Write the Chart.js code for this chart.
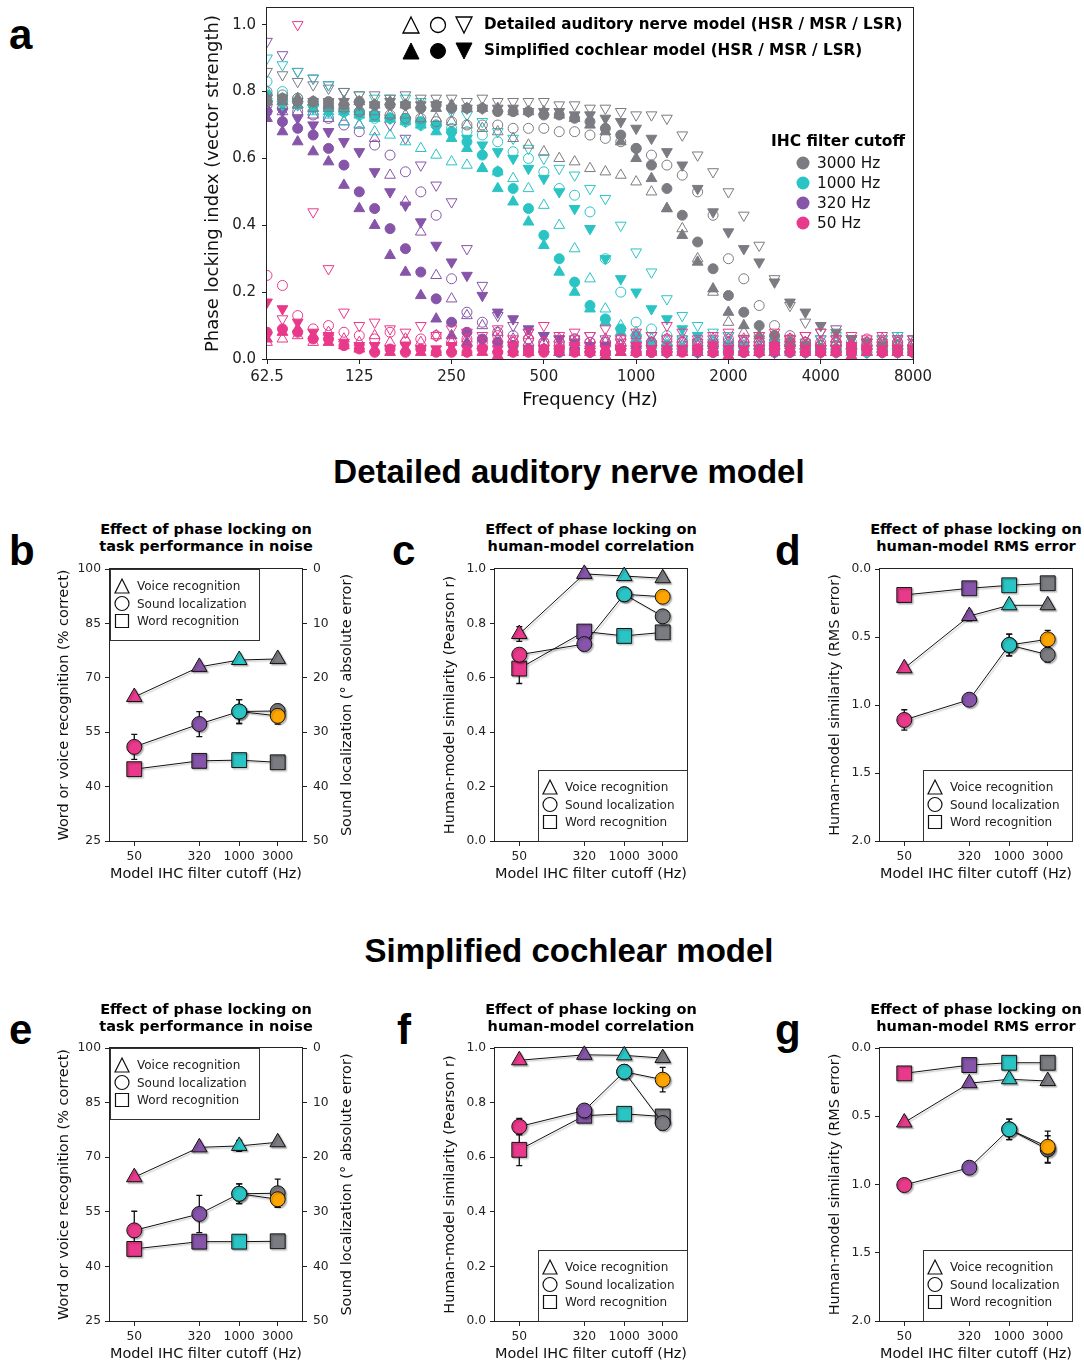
<!DOCTYPE html>
<html>
<head>
<meta charset="utf-8">
<script src="https://cdn.jsdelivr.net/npm/chart.js@4.4.1/dist/chart.umd.min.js"></script>
<style>
  body { margin: 0; background: #fff; }
  #page { position: relative; width: 1084px; height: 1362px; overflow: hidden; background: #fff; }
  canvas { position: absolute; }
  .letter { position: absolute; font: bold 42px/42px "Liberation Sans", Arial, sans-serif; color: #000; }
  .heading { position: absolute; font: bold 33px/33px "Liberation Sans", Arial, sans-serif; white-space: nowrap; transform: translateX(-50%); color: #000; }
  .ptitle { position: absolute; font: bold 14.5px/17px "DejaVu Sans", sans-serif; text-align: center; white-space: nowrap; transform: translateX(-50%); color: #000; }
</style>
</head>
<body>
<div id="page">
  <canvas id="cA" width="740" height="414" style="left:200px;top:0px"></canvas>
  <canvas id="cB" width="306" height="331" style="left:53px;top:555px"></canvas>
  <canvas id="cC" width="260" height="331" style="left:439px;top:555px"></canvas>
  <canvas id="cD" width="260" height="331" style="left:824px;top:555px"></canvas>
  <canvas id="cE" width="306" height="332" style="left:53px;top:1034px"></canvas>
  <canvas id="cF" width="260" height="332" style="left:439px;top:1034px"></canvas>
  <canvas id="cG" width="260" height="332" style="left:824px;top:1034px"></canvas>

  <div class="letter" style="left:9px;top:14px">a</div>
  <div class="letter" style="left:9px;top:530px">b</div>
  <div class="letter" style="left:392px;top:530px">c</div>
  <div class="letter" style="left:775px;top:530px">d</div>
  <div class="letter" style="left:9px;top:1009px">e</div>
  <div class="letter" style="left:397px;top:1009px">f</div>
  <div class="letter" style="left:775px;top:1009px">g</div>

  <div class="heading" style="left:569px;top:455px">Detailed auditory nerve model</div>
  <div class="heading" style="left:569px;top:934px">Simplified cochlear model</div>

  <div class="ptitle" style="left:206px;top:521px">Effect of phase locking on<br>task performance in noise</div>
  <div class="ptitle" style="left:591px;top:521px">Effect of phase locking on<br>human-model correlation</div>
  <div class="ptitle" style="left:976px;top:521px">Effect of phase locking on<br>human-model RMS error</div>
  <div class="ptitle" style="left:206px;top:1001px">Effect of phase locking on<br>task performance in noise</div>
  <div class="ptitle" style="left:591px;top:1001px">Effect of phase locking on<br>human-model correlation</div>
  <div class="ptitle" style="left:976px;top:1001px">Effect of phase locking on<br>human-model RMS error</div>
</div>

<script>
// ---------- panel a: phase locking vs frequency ----------
const freqHz = [62.5, 70.2, 78.7, 88.4, 99.2, 111.4, 125, 140.3, 157.5, 176.8,
  198.4, 222.7, 250, 280.6, 315, 353.6, 396.9, 445.4, 500, 561.2,
  630, 707.1, 793.7, 890.9, 1000, 1122, 1260, 1414, 1587, 1782,
  2000, 2245, 2520, 2828, 3175, 3564, 4000, 4490, 5040, 5657,
  6350, 7127, 8000];
const xTickA = [62.5, 125, 250, 500, 1000, 2000, 4000, 8000];
const yTickA = [0, 0.2, 0.4, 0.6, 0.8, 1.0];

// 3000 Hz cutoff
const sim3000HSR = [0.78,0.77,0.78,0.77,0.76,0.77,0.77,0.76,0.77,0.76, 0.76,0.75,0.76,0.75,0.75,0.75,0.74,0.74,0.74,0.73, 0.72,0.70,0.68,0.65,0.60,0.54,0.45,0.37,0.29,0.21, 0.14,0.10,0.07,0.05,0.04,0.03,0.03,0.02,0.03,0.02, 0.03,0.02,0.02];
const sim3000MSR = [0.77,0.78,0.77,0.77,0.77,0.76,0.77,0.76,0.76,0.76, 0.75,0.76,0.75,0.75,0.75,0.74,0.74,0.74,0.73,0.73, 0.72,0.71,0.69,0.67,0.63,0.58,0.51,0.43,0.35,0.27, 0.19,0.14,0.10,0.07,0.05,0.04,0.03,0.03,0.02,0.03, 0.02,0.03,0.02];
const sim3000LSR = [0.78,0.78,0.77,0.77,0.77,0.77,0.76,0.76,0.77,0.76, 0.76,0.76,0.75,0.75,0.75,0.75,0.75,0.74,0.74,0.74, 0.73,0.73,0.72,0.71,0.69,0.66,0.62,0.58,0.51,0.44, 0.38,0.33,0.29,0.23,0.17,0.14,0.10,0.08,0.06,0.05, 0.04,0.03,0.03];
const det3000HSR = [0.77,0.76,0.76,0.75,0.75,0.75,0.74,0.74,0.73,0.73, 0.72,0.72,0.71,0.70,0.69,0.68,0.66,0.64,0.62,0.60, 0.59,0.57,0.56,0.55,0.53,0.50,0.45,0.39,0.30,0.20, 0.11,0.08,0.06,0.05,0.05,0.04,0.04,0.05,0.04,0.04, 0.05,0.04,0.04];
const det3000MSR = [0.80,0.79,0.78,0.77,0.76,0.75,0.74,0.73,0.73,0.72, 0.72,0.71,0.71,0.70,0.70,0.70,0.69,0.69,0.69,0.68, 0.68,0.67,0.66,0.65,0.63,0.61,0.58,0.55,0.50,0.43, 0.30,0.24,0.16,0.10,0.07,0.05,0.04,0.04,0.03,0.04, 0.03,0.04,0.03];
const det3000LSR = [0.86,0.85,0.83,0.82,0.81,0.80,0.79,0.79,0.78,0.79, 0.78,0.78,0.78,0.77,0.78,0.77,0.77,0.77,0.77,0.76, 0.76,0.75,0.75,0.74,0.73,0.73,0.72,0.67,0.61,0.56, 0.50,0.43,0.34,0.24,0.16,0.11,0.08,0.06,0.06,0.05, 0.05,0.06,0.05];

// 1000 Hz cutoff
const sim1000HSR = [0.78,0.77,0.76,0.75,0.74,0.74,0.73,0.72,0.72,0.71, 0.70,0.68,0.66,0.63,0.57,0.51,0.47,0.41,0.34,0.26, 0.20,0.15,0.11,0.08,0.06,0.04,0.03,0.03,0.02,0.03, 0.02,0.03,0.02,0.02,0.03,0.02,0.02,0.03,0.02,0.02, 0.03,0.02,0.02];
const sim1000MSR = [0.79,0.77,0.77,0.76,0.75,0.74,0.74,0.73,0.72,0.72, 0.71,0.70,0.68,0.65,0.61,0.56,0.51,0.45,0.37,0.30, 0.23,0.16,0.12,0.09,0.07,0.05,0.04,0.03,0.03,0.02, 0.03,0.02,0.02,0.03,0.02,0.02,0.03,0.02,0.02,0.02, 0.03,0.02,0.02];
const sim1000LSR = [0.77,0.76,0.76,0.75,0.74,0.74,0.73,0.73,0.72,0.71, 0.70,0.69,0.67,0.66,0.64,0.62,0.60,0.57,0.54,0.50, 0.45,0.39,0.30,0.24,0.20,0.15,0.12,0.09,0.07,0.05, 0.04,0.04,0.03,0.03,0.03,0.02,0.03,0.02,0.02,0.03, 0.02,0.02,0.02];
const det1000HSR = [0.80,0.78,0.76,0.74,0.73,0.71,0.70,0.68,0.67,0.65, 0.63,0.61,0.59,0.58,0.57,0.56,0.54,0.51,0.46,0.40, 0.33,0.24,0.15,0.10,0.08,0.06,0.05,0.06,0.05,0.05, 0.06,0.04,0.05,0.06,0.05,0.04,0.05,0.06,0.05,0.04, 0.05,0.06,0.05];
const det1000MSR = [0.83,0.80,0.78,0.76,0.75,0.74,0.73,0.72,0.72,0.71, 0.70,0.70,0.69,0.68,0.67,0.65,0.62,0.60,0.56,0.51, 0.49,0.44,0.30,0.20,0.11,0.09,0.07,0.06,0.05,0.05, 0.04,0.05,0.04,0.05,0.04,0.05,0.04,0.04,0.05,0.04, 0.04,0.05,0.04];
const det1000LSR = [0.90,0.88,0.86,0.84,0.82,0.80,0.79,0.78,0.78,0.78, 0.77,0.76,0.74,0.73,0.71,0.68,0.66,0.63,0.60,0.57, 0.55,0.51,0.48,0.40,0.32,0.26,0.18,0.13,0.10,0.08, 0.07,0.06,0.07,0.06,0.06,0.05,0.06,0.07,0.06,0.05, 0.06,0.07,0.06];

// 320 Hz cutoff
const sim320HSR = [0.72,0.68,0.65,0.62,0.59,0.52,0.45,0.40,0.31,0.26, 0.19,0.12,0.07,0.05,0.04,0.03,0.03,0.02,0.03,0.02, 0.02,0.03,0.02,0.02,0.02,0.03,0.02,0.02,0.02,0.02, 0.03,0.02,0.02,0.02,0.02,0.03,0.02,0.02,0.02,0.02, 0.02,0.02,0.02];
const sim320MSR = [0.74,0.71,0.69,0.67,0.63,0.58,0.50,0.45,0.39,0.33, 0.26,0.18,0.11,0.08,0.06,0.05,0.04,0.03,0.03,0.02, 0.03,0.02,0.02,0.03,0.02,0.02,0.02,0.03,0.02,0.02, 0.02,0.02,0.03,0.02,0.02,0.02,0.02,0.02,0.03,0.02, 0.02,0.02,0.02];
const sim320LSR = [0.76,0.74,0.72,0.70,0.68,0.65,0.62,0.56,0.50,0.46, 0.41,0.34,0.29,0.25,0.19,0.14,0.12,0.09,0.07,0.06, 0.05,0.04,0.04,0.03,0.03,0.03,0.02,0.03,0.02,0.03, 0.02,0.03,0.02,0.02,0.03,0.02,0.02,0.03,0.02,0.02, 0.03,0.02,0.02];
const det320HSR = [0.75,0.74,0.74,0.73,0.72,0.71,0.70,0.66,0.55,0.47, 0.38,0.25,0.18,0.13,0.10,0.08,0.06,0.05,0.05,0.04, 0.05,0.04,0.05,0.04,0.04,0.05,0.04,0.04,0.05,0.04, 0.04,0.05,0.04,0.04,0.05,0.04,0.04,0.05,0.04,0.04, 0.05,0.04,0.04];
const det320MSR = [0.76,0.75,0.74,0.73,0.72,0.70,0.68,0.64,0.61,0.56, 0.50,0.43,0.24,0.14,0.11,0.08,0.07,0.06,0.05,0.05, 0.06,0.05,0.05,0.04,0.05,0.05,0.04,0.05,0.05,0.04, 0.05,0.04,0.05,0.05,0.04,0.05,0.04,0.05,0.04,0.05, 0.04,0.05,0.04];
const det320LSR = [0.95,0.91,0.86,0.84,0.82,0.80,0.76,0.73,0.70,0.66, 0.58,0.52,0.47,0.33,0.22,0.13,0.10,0.08,0.07,0.06, 0.06,0.07,0.06,0.05,0.06,0.07,0.06,0.06,0.05,0.06, 0.07,0.06,0.06,0.05,0.06,0.07,0.06,0.09,0.06,0.05, 0.06,0.07,0.06];

// 50 Hz cutoff
const sim50HSR = [0.06,0.08,0.09,0.07,0.05,0.04,0.03,0.03,0.02,0.03, 0.02,0.02,0.03,0.02,0.02,0.01,0.02,0.02,0.03,0.02, 0.02,0.02,0.01,0.02,0.02,0.02,0.03,0.02,0.02,0.02, 0.01,0.02,0.02,0.02,0.03,0.02,0.02,0.02,0.01,0.02, 0.02,0.02,0.02];
const sim50MSR = [0.08,0.09,0.08,0.06,0.06,0.04,0.03,0.02,0.03,0.02, 0.03,0.02,0.02,0.02,0.03,0.02,0.02,0.02,0.02,0.03, 0.02,0.02,0.02,0.03,0.02,0.02,0.02,0.02,0.03,0.02, 0.02,0.02,0.02,0.03,0.02,0.02,0.02,0.02,0.02,0.03, 0.02,0.02,0.02];
const sim50LSR = [0.17,0.15,0.11,0.08,0.07,0.05,0.04,0.04,0.03,0.04, 0.03,0.03,0.04,0.03,0.03,0.03,0.04,0.03,0.03,0.03, 0.04,0.03,0.03,0.03,0.04,0.03,0.03,0.03,0.03,0.04, 0.03,0.03,0.03,0.04,0.03,0.03,0.03,0.03,0.04,0.03, 0.03,0.03,0.03];
const det50HSR = [0.05,0.06,0.07,0.05,0.08,0.06,0.05,0.07,0.05,0.06, 0.05,0.07,0.05,0.06,0.04,0.06,0.05,0.07,0.05,0.06, 0.05,0.04,0.06,0.05,0.07,0.05,0.06,0.05,0.04,0.06, 0.05,0.06,0.05,0.04,0.06,0.05,0.05,0.06,0.04,0.05, 0.06,0.05,0.05];
const det50MSR = [0.25,0.22,0.13,0.09,0.10,0.08,0.07,0.06,0.08,0.05, 0.06,0.07,0.05,0.06,0.05,0.07,0.05,0.06,0.05,0.04, 0.06,0.05,0.05,0.06,0.04,0.05,0.06,0.05,0.05,0.04, 0.06,0.05,0.05,0.04,0.06,0.05,0.05,0.05,0.04,0.06, 0.05,0.05,0.04];
const det50LSR = [0.07,0.12,1.00,0.44,0.27,0.14,0.10,0.11,0.09,0.08, 0.10,0.07,0.09,0.08,0.07,0.09,0.06,0.08,0.10,0.07, 0.08,0.07,0.09,0.06,0.08,0.07,0.10,0.08,0.06,0.07, 0.08,0.06,0.07,0.08,0.06,0.07,0.08,0.06,0.07,0.06, 0.07,0.06,0.06];

// ---------- panels b-g ----------
const cutoffHz = [50, 320, 1000, 3000];
const cutoffColors = ['#e8398a', '#8654a8', '#2bc4c4', '#7b7b82'];
const altColor = '#ffa500';
const taskNames = ['Voice recognition', 'Sound localization', 'Word recognition'];
const taskTicks = [25, 40, 55, 70, 85, 100];
const locTicks = [0, 10, 20, 30, 40, 50];
const corrTicks = [0, 0.2, 0.4, 0.6, 0.8, 1.0];
const rmsTicks = [0, 0.5, 1.0, 1.5, 2.0];

// b: detailed model, task performance (% correct; localization in degrees)
const bVoice = [64.7, 73.0, 74.9, 75.2];
const bVoiceErr = [0.4, 0.5, 0.5, 0.4];
const bLoc = [32.7, 28.5, 26.2, 26.1];
const bLocErr = [2.3, 2.3, 2.2, 1.2];
const bLocAlt = [26.2, 27.0];
const bLocAltErr = [2.2, 1.5];
const bWord = [44.8, 47.1, 47.3, 46.7];
const bWordErr = [0.3, 0.3, 0.3, 0.3];

// c: detailed model, human-model correlation
const cVoice = [0.761, 0.982, 0.974, 0.966];
const cVoiceErr = [0.027, 0.004, 0.004, 0.004];
const cLoc = [0.685, 0.724, 0.907, 0.826];
const cLocErr = [0.012, 0.015, 0.01, 0.01];
const cLocAlt = [0.907, 0.898];
const cLocAltErr = [0.01, 0.021];
const cWord = [0.634, 0.770, 0.754, 0.767];
const cWordErr = [0.055, 0.01, 0.012, 0.006];

// d: detailed model, RMS error
const dVoice = [0.730, 0.346, 0.267, 0.267];
const dVoiceErr = [0.02, 0.035, 0.01, 0.01];
const dLoc = [1.110, 0.961, 0.559, 0.630];
const dLocErr = [0.075, 0.02, 0.08, 0.055];
const dLocAlt = [0.559, 0.517];
const dLocAltErr = [0.08, 0.065];
const dWord = [0.191, 0.142, 0.120, 0.105];
const dWordErr = [0.01, 0.01, 0.01, 0.01];

// e: simplified model, task performance
const eVoice = [64.5, 72.7, 73.1, 74.1];
const eVoiceErr = [0.4, 0.5, 1.5, 0.5];
const eLoc = [33.4, 30.4, 26.7, 26.6];
const eLocErr = [3.5, 3.4, 1.8, 2.6];
const eLocAlt = [26.7, 27.7];
const eLocAltErr = [1.8, 1.5];
const eWord = [44.8, 46.8, 46.8, 46.9];
const eWordErr = [0.3, 0.3, 0.7, 0.3];

// f: simplified model, correlation
const fVoice = [0.955, 0.975, 0.973, 0.963];
const fVoiceErr = [0.004, 0.004, 0.004, 0.004];
const fLoc = [0.712, 0.771, 0.913, 0.725];
const fLocErr = [0.03, 0.01, 0.025, 0.025];
const fLocAlt = [0.913, 0.884];
const fLocAltErr = [0.025, 0.045];
const fWord = [0.627, 0.752, 0.759, 0.749];
const fWordErr = [0.058, 0.01, 0.01, 0.02];

// g: simplified model, RMS error
const gVoice = [0.546, 0.258, 0.229, 0.242];
const gVoiceErr = [0.01, 0.01, 0.01, 0.01];
const gLoc = [1.004, 0.877, 0.596, 0.743];
const gLocErr = [0.015, 0.02, 0.075, 0.1];
const gLocAlt = [0.596, 0.724];
const gLocAltErr = [0.075, 0.115];
const gWord = [0.186, 0.125, 0.108, 0.108];
const gWordErr = [0.01, 0.01, 0.01, 0.01];

Chart.defaults.font.family = '"DejaVu Sans", sans-serif';
Chart.defaults.color = '#111';

// legend marker (not data)
function drawMarker(ctx, style, x, y, s, fill, stroke, lw) {
  ctx.beginPath();
  if (style === 'circle') ctx.arc(x, y, s / 2, 0, Math.PI * 2);
  else if (style === 'up') { ctx.moveTo(x, y - s / 2); ctx.lineTo(x + s / 2, y + s / 2); ctx.lineTo(x - s / 2, y + s / 2); ctx.closePath(); }
  else if (style === 'down') { ctx.moveTo(x, y + s / 2); ctx.lineTo(x + s / 2, y - s / 2); ctx.lineTo(x - s / 2, y - s / 2); ctx.closePath(); }
  else ctx.rect(x - s / 2, y - s / 2, s, s);
  ctx.fillStyle = fill;
  ctx.fill();
  if (lw) { ctx.lineWidth = lw; ctx.strokeStyle = stroke; ctx.stroke(); }
}

// keep label overhang from pushing the plot area around
const noPadY = s => { s.paddingTop = 0; s.paddingBottom = 0; };
const noPadX = s => { s.paddingLeft = 0; s.paddingRight = 0; };

const frame = {
  id: 'frame',
  beforeDatasetsDraw(chart) {
    const {ctx, chartArea: a} = chart;
    ctx.save();
    ctx.strokeStyle = '#222';
    ctx.lineWidth = 1;
    const l = Math.round(a.left) - 0.5, t = Math.round(a.top) - 0.5;
    ctx.strokeRect(l, t, Math.round(a.right) - Math.round(a.left) + 1, Math.round(a.bottom) - Math.round(a.top) + 1);
    ctx.restore();
  }
};

// soft drop shadow under the markers and lines of panels b-g
const softShadow = {
  id: 'softShadow',
  beforeDatasetDraw(chart) {
    const ctx = chart.ctx;
    ctx.save();
    ctx.shadowColor = 'rgba(0,0,0,0.28)';
    ctx.shadowOffsetX = 1.5;
    ctx.shadowOffsetY = 1.5;
    ctx.shadowBlur = 1.5;
  },
  afterDatasetDraw(chart) {
    chart.ctx.restore();
  }
};

const errorBars = {
  id: 'errorBars',
  beforeDatasetsDraw(chart) {
    const ctx = chart.ctx;
    ctx.save();
    ctx.strokeStyle = '#111';
    ctx.lineWidth = 1.3;
    chart.data.datasets.forEach(ds => {
      if (!ds.err) return;
      const xs = chart.scales.x, ys = chart.scales[ds.yAxisID || 'y'];
      ds.data.forEach((p, j) => {
        const e = ds.err[j];
        if (!e) return;
        const x = xs.getPixelForValue(p.x);
        const y1 = ys.getPixelForValue(p.y - e), y2 = ys.getPixelForValue(p.y + e);
        ctx.beginPath();
        ctx.moveTo(x, y1); ctx.lineTo(x, y2);
        ctx.moveTo(x - 3, y1); ctx.lineTo(x + 3, y1);
        ctx.moveTo(x - 3, y2); ctx.lineTo(x + 3, y2);
        ctx.stroke();
      });
    });
    ctx.restore();
  }
};

const taskLegend = {
  id: 'taskLegend',
  afterDatasetsDraw(chart, args, opts) {
    const {ctx, chartArea: a} = chart;
    const w = 149, h = 71;
    const x0 = opts.corner === 'tl' ? Math.round(a.left) : Math.round(a.right) - w;
    const y0 = opts.corner === 'tl' ? Math.round(a.top) : Math.round(a.bottom) - h;
    ctx.save();
    ctx.fillStyle = '#fff';
    ctx.fillRect(x0, y0, w, h);
    ctx.strokeStyle = '#333';
    ctx.lineWidth = 1;
    ctx.strokeRect(x0 + 0.5, y0 + 0.5, w, h);
    const styles = ['up', 'circle', 'square'];
    const sizes = [14, 14, 13];
    taskNames.forEach((name, i) => {
      const y = y0 + 17 + i * 17.5;
      drawMarker(ctx, styles[i], x0 + 12, y, sizes[i], '#fff', '#111', 1.2);
      ctx.fillStyle = '#222';
      ctx.font = '12px "DejaVu Sans"';
      ctx.textAlign = 'left';
      ctx.textBaseline = 'middle';
      ctx.fillText(name, x0 + 27, y + 1);
    });
    // right-hand axis title, read bottom to top like the left one
    if (opts.rightTitle) {
      ctx.translate(a.right + 45, (a.top + a.bottom) / 2);
      ctx.rotate(-Math.PI / 2);
      ctx.textAlign = 'center';
      ctx.fillStyle = '#111';
      ctx.font = '14.5px "DejaVu Sans"';
      ctx.fillText(opts.rightTitle, 0, 0);
    }
    ctx.restore();
  }
};

const legendA = {
  id: 'legendA',
  afterDraw(chart) {
    const ctx = chart.ctx;
    ctx.save();
    ctx.textBaseline = 'middle';
    ctx.textAlign = 'left';
    drawMarker(ctx, 'up', 211, 25, 16, 'rgba(255,255,255,0)', '#000', 1.3);
    drawMarker(ctx, 'circle', 238, 25, 15, 'rgba(255,255,255,0)', '#000', 1.3);
    drawMarker(ctx, 'down', 264, 25, 16, 'rgba(255,255,255,0)', '#000', 1.3);
    drawMarker(ctx, 'up', 211, 51, 16, '#000', '#000', 1);
    drawMarker(ctx, 'circle', 238, 51, 15, '#000', '#000', 1);
    drawMarker(ctx, 'down', 264, 51, 16, '#000', '#000', 1);
    ctx.fillStyle = '#000';
    ctx.font = 'bold 15.2px "DejaVu Sans"';
    ctx.fillText('Detailed auditory nerve model (HSR / MSR / LSR)', 284, 25);
    ctx.fillText('Simplified cochlear model (HSR / MSR / LSR)', 284, 51);
    ctx.textAlign = 'center';
    ctx.font = 'bold 15.5px "DejaVu Sans"';
    ctx.fillText('IHC filter cutoff', 638, 142);
    ctx.textAlign = 'left';
    ctx.font = '15.3px "DejaVu Sans"';
    [3, 2, 1, 0].forEach((ci, i) => {
      const y = 163 + i * 20;
      drawMarker(ctx, 'circle', 603, y, 13, cutoffColors[ci], cutoffColors[ci], 0);
      ctx.fillStyle = '#111';
      ctx.fillText(cutoffHz[ci] + ' Hz', 617, y + 1);
    });
    ctx.restore();
  }
};

const gridOpts = {display: true, drawOnChartArea: false, drawTicks: true, tickLength: 5, color: '#222', lineWidth: 1};

// ---------- build panel a ----------
function scatterSet(vals, color, marker, filled, order) {
  return {
    data: freqHz.map((f, i) => ({x: f, y: vals[i]})),
    showLine: false,
    pointStyle: marker === 'circle' ? 'circle' : 'triangle',
    pointRotation: marker === 'down' ? 180 : 0,
    pointRadius: marker === 'circle' ? 5 : 6.2,
    pointBackgroundColor: filled ? color : 'rgba(255,255,255,0)',
    pointBorderColor: color,
    pointBorderWidth: 1,
    order: order
  };
}

const [pink, purple, teal, gray] = cutoffColors;
const groupsA = [
  [pink, sim50HSR, sim50MSR, sim50LSR, det50HSR, det50MSR, det50LSR],
  [gray, sim3000HSR, sim3000MSR, sim3000LSR, det3000HSR, det3000MSR, det3000LSR],
  [teal, sim1000HSR, sim1000MSR, sim1000LSR, det1000HSR, det1000MSR, det1000LSR],
  [purple, sim320HSR, sim320MSR, sim320LSR, det320HSR, det320MSR, det320LSR]
];
const datasetsA = [];
groupsA.forEach(g => {
  const c = g[0];
  datasetsA.push(scatterSet(g[1], c, 'up', true, datasetsA.length));
  datasetsA.push(scatterSet(g[2], c, 'circle', true, datasetsA.length));
  datasetsA.push(scatterSet(g[3], c, 'down', true, datasetsA.length));
  datasetsA.push(scatterSet(g[4], c, 'up', false, datasetsA.length));
  datasetsA.push(scatterSet(g[5], c, 'circle', false, datasetsA.length));
  datasetsA.push(scatterSet(g[6], c, 'down', false, datasetsA.length));
});

new Chart(document.getElementById('cA'), {
  type: 'scatter',
  data: {datasets: datasetsA},
  options: {
    responsive: false, animation: false, devicePixelRatio: 1,
    layout: {padding: {top: 8, right: 27, left: 0, bottom: 0}},
    plugins: {legend: {display: false}, tooltip: {enabled: false}},
    scales: {
      x: {
        type: 'logarithmic', min: 62.5, max: 8000,
        afterBuildTicks: s => { s.ticks = xTickA.map(v => ({value: v})); },
        afterFit: s => { s.height = 55; noPadX(s); },
        ticks: {font: {size: 15}, color: '#222', padding: 4, autoSkip: false, maxRotation: 0, callback: v => String(v)},
        grid: gridOpts, border: {display: false},
        title: {display: true, text: 'Frequency (Hz)', font: {size: 18}, color: '#111', padding: {top: 4, bottom: 3}}
      },
      y: {
        min: 0, max: 1.05,
        afterBuildTicks: s => { s.ticks = yTickA.map(v => ({value: v})); },
        afterFit: s => { s.width = 67; noPadY(s); },
        ticks: {font: {size: 15}, color: '#222', padding: 6, callback: v => v.toFixed(1)},
        grid: gridOpts, border: {display: false},
        title: {display: true, text: 'Phase locking index (vector strength)', font: {size: 18}, color: '#111', padding: {top: 3, bottom: 4}}
      }
    }
  },
  plugins: [frame, legendA]
});

// ---------- build panels b-g ----------
function makeTaskPanel(canvasId, kind, d, corner) {
  const isTask = kind === 'task';
  const locAxis = isTask ? 'yR' : 'y';
  const pts = vals => cutoffHz.map((c, i) => ({x: c, y: vals[i]}));
  const line = {showLine: true, borderColor: '#111', borderWidth: 1, pointBorderColor: '#111', pointBorderWidth: 1, clip: false};
  const datasets = [
    Object.assign({}, line, {data: [{x: cutoffHz[2], y: d.locAlt[0]}, {x: cutoffHz[3], y: d.locAlt[1]}], err: d.locAltErr, yAxisID: locAxis,
      pointStyle: 'circle', pointRadius: 7.5, pointBackgroundColor: [cutoffColors[2], altColor], order: 0}),
    Object.assign({}, line, {data: pts(d.loc), err: d.locErr, yAxisID: locAxis, pointStyle: 'circle', pointRadius: 7.5, pointBackgroundColor: cutoffColors, order: 1}),
    Object.assign({}, line, {data: pts(d.voice), err: d.voiceErr, yAxisID: 'y', pointStyle: 'triangle', pointRadius: 9, pointBackgroundColor: cutoffColors, order: 2}),
    Object.assign({}, line, {data: pts(d.word), err: d.wordErr, yAxisID: 'y', pointStyle: 'rect', pointRadius: 10.5, pointBackgroundColor: cutoffColors, order: 3})
  ];

  const yc = {
    task: {min: 25, max: 100, ticks: taskTicks, fmt: v => String(v), reverse: false, title: 'Word or voice recognition (% correct)'},
    corr: {min: 0, max: 1, ticks: corrTicks, fmt: v => v.toFixed(1), reverse: false, title: 'Human-model similarity (Pearson r)'},
    rms: {min: 0, max: 2, ticks: rmsTicks, fmt: v => v.toFixed(1), reverse: true, title: 'Human-model similarity (RMS error)'}
  }[kind];

  const scales = {
    x: {
      type: 'logarithmic', min: 25, max: 6000,
      afterBuildTicks: s => { s.ticks = cutoffHz.map(v => ({value: v})); },
      afterFit: s => { s.height = 45; noPadX(s); },
      ticks: {font: {size: 12.3}, color: '#222', padding: 3, autoSkip: false, maxRotation: 0, callback: v => String(v)},
      grid: gridOpts, border: {display: false},
      title: {display: true, text: 'Model IHC filter cutoff (Hz)', font: {size: 14.5}, color: '#111', padding: {top: 4, bottom: 3}}
    },
    y: {
      min: yc.min, max: yc.max, reverse: yc.reverse,
      afterBuildTicks: s => { s.ticks = yc.ticks.map(v => ({value: v})); },
      afterFit: s => { s.width = isTask ? 57 : 56; noPadY(s); },
      ticks: {font: {size: 12.3}, color: '#222', padding: 4, callback: yc.fmt},
      grid: gridOpts, border: {display: false},
      title: {display: true, text: yc.title, font: {size: 14.5}, color: '#111', padding: {top: 3, bottom: 4}}
    }
  };
  if (isTask) {
    scales.yR = {
      position: 'right', min: 0, max: 50, reverse: true,
      afterBuildTicks: s => { s.ticks = locTicks.map(v => ({value: v})); },
      afterFit: s => { s.width = 57; noPadY(s); },
      ticks: {font: {size: 12.3}, color: '#222', padding: 6, callback: v => String(v)},
      grid: gridOpts, border: {display: false},
      title: {display: false}
    };
  }

  new Chart(document.getElementById(canvasId), {
    type: 'scatter',
    data: {datasets},
    options: {
      responsive: false, animation: false, devicePixelRatio: 1,
      layout: {padding: {top: 14, right: isTask ? 0 : 12, left: 0, bottom: 0}},
      plugins: {
        legend: {display: false}, tooltip: {enabled: false},
        taskLegend: {corner, rightTitle: isTask ? 'Sound localization (° absolute error)' : ''}
      },
      scales
    },
    plugins: [frame, errorBars, softShadow, taskLegend]
  });
}

makeTaskPanel('cB', 'task', {voice: bVoice, voiceErr: bVoiceErr, loc: bLoc, locErr: bLocErr, locAlt: bLocAlt, locAltErr: bLocAltErr, word: bWord, wordErr: bWordErr}, 'tl');
makeTaskPanel('cC', 'corr', {voice: cVoice, voiceErr: cVoiceErr, loc: cLoc, locErr: cLocErr, locAlt: cLocAlt, locAltErr: cLocAltErr, word: cWord, wordErr: cWordErr}, 'br');
makeTaskPanel('cD', 'rms', {voice: dVoice, voiceErr: dVoiceErr, loc: dLoc, locErr: dLocErr, locAlt: dLocAlt, locAltErr: dLocAltErr, word: dWord, wordErr: dWordErr}, 'br');
makeTaskPanel('cE', 'task', {voice: eVoice, voiceErr: eVoiceErr, loc: eLoc, locErr: eLocErr, locAlt: eLocAlt, locAltErr: eLocAltErr, word: eWord, wordErr: eWordErr}, 'tl');
makeTaskPanel('cF', 'corr', {voice: fVoice, voiceErr: fVoiceErr, loc: fLoc, locErr: fLocErr, locAlt: fLocAlt, locAltErr: fLocAltErr, word: fWord, wordErr: fWordErr}, 'br');
makeTaskPanel('cG', 'rms', {voice: gVoice, voiceErr: gVoiceErr, loc: gLoc, locErr: gLocErr, locAlt: gLocAlt, locAltErr: gLocAltErr, word: gWord, wordErr: gWordErr}, 'br');
</script>
</body>
</html>
